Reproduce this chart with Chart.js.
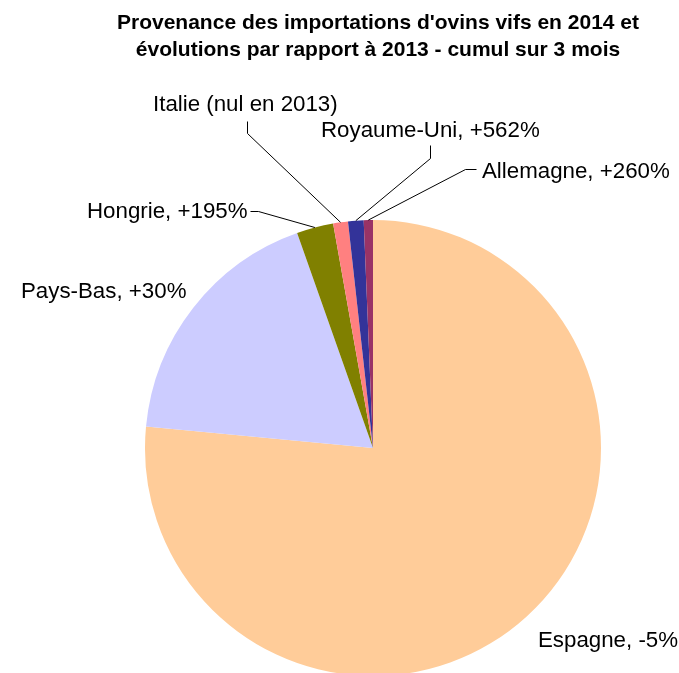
<!DOCTYPE html>
<html>
<head>
<meta charset="utf-8">
<script src="https://cdn.jsdelivr.net/npm/chart.js@4/dist/chart.umd.min.js"></script>
<style>
  body { margin: 0; background: #fff; }
  #wrap { width: 679px; height: 673px; overflow: hidden; }
</style>
</head>
<body>
<div id="wrap"><canvas id="pie" width="679" height="700"></canvas></div>
<script>
// data (share of imports, %)
var countries = ['Espagne', 'Pays-Bas', 'Hongrie', 'Italie', 'Royaume-Uni', 'Allemagne'];
var shares = [76.5, 18.1, 2.6, 1.05, 1.1, 0.65];
var evolutions = [', -5%', ', +30%', ', +195%', ' (nul en 2013)', ', +562%', ', +260%'];
var colours = ['#FFCC99', '#CCCCFF', '#808000', '#FF8080', '#333399', '#993366'];
var titleLines = ["Provenance des importations d'ovins vifs en 2014 et",
                  "évolutions par rapport à 2013 - cumul sur 3 mois"];

// where each label sits, and the elbow of its leader line (null = no line)
var labelPos = [
  {x: 538, y: 647, elbow: null},
  {x: 21,  y: 298, elbow: null},
  {x: 87,  y: 218, elbow: [[250, 211], [258, 211]]},
  {x: 153, y: 111, elbow: [[247, 121], [247, 133]]},
  {x: 321, y: 137, elbow: [[430, 145], [430, 158]]},
  {x: 482, y: 178, elbow: [[476, 169], [465, 169]]}
];

var labelsPlugin = {
  id: 'pieLabels',
  afterDraw: function(chart) {
    var ctx = chart.ctx;
    var arcs = chart.getDatasetMeta(0).data;
    ctx.save();
    ctx.fillStyle = '#000';
    ctx.textBaseline = 'alphabetic';
    // title
    ctx.font = 'bold 21px "Liberation Sans", Arial, sans-serif';
    ctx.textAlign = 'center';
    ctx.fillText(titleLines[0], 378, 29);
    ctx.fillText(titleLines[1], 378, 56);
    // labels
    ctx.font = '22.3px "Liberation Sans", Arial, sans-serif';
    ctx.textAlign = 'left';
    ctx.strokeStyle = '#000';
    ctx.lineWidth = 1;
    for (var i = 0; i < arcs.length; i++) {
      var a = arcs[i];
      var p = labelPos[i];
      ctx.fillText(countries[i] + evolutions[i], p.x, p.y);
      if (p.elbow) {
        var mid = (a.startAngle + a.endAngle) / 2;
        var ax = a.x + Math.cos(mid) * a.outerRadius;
        var ay = a.y + Math.sin(mid) * a.outerRadius;
        ctx.beginPath();
        ctx.moveTo(p.elbow[0][0] + 0.5, p.elbow[0][1] + 0.5);
        ctx.lineTo(p.elbow[1][0] + 0.5, p.elbow[1][1] + 0.5);
        ctx.lineTo(ax, ay);
        ctx.stroke();
      }
    }
    ctx.restore();
  }
};

new Chart(document.getElementById('pie'), {
  type: 'pie',
  data: {
    labels: countries,
    datasets: [{
      data: shares,
      backgroundColor: colours,
      borderWidth: 0
    }]
  },
  options: {
    responsive: false,
    animation: false,
    layout: { padding: { left: 145, right: 78, top: 220, bottom: 24 } },
    plugins: {
      legend: { display: false },
      tooltip: { enabled: false }
    }
  },
  plugins: [labelsPlugin]
});
</script>
</body>
</html>
